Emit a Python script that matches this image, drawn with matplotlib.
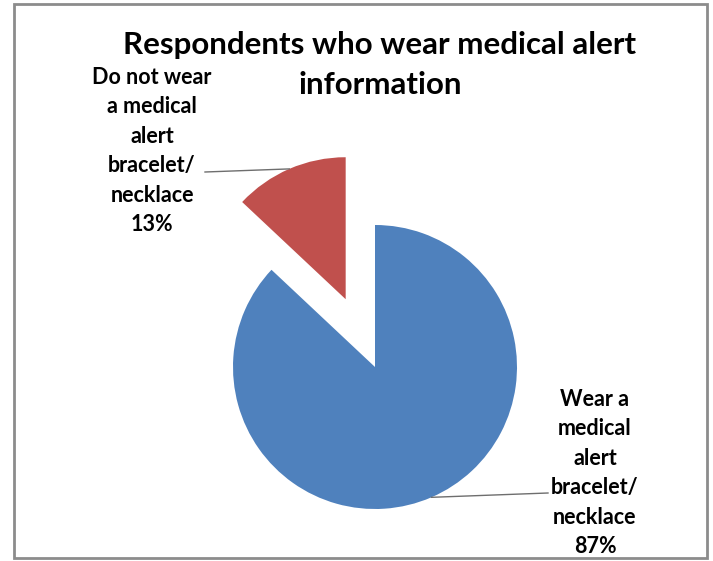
import numpy as np
import matplotlib.pyplot as plt
from matplotlib.patches import Rectangle

labels = ['Wear a\nmedical\nalert\nbracelet/\nnecklace', 'Do not wear\na medical\nalert\nbracelet/\nnecklace']
shares = [87, 13]
colors = ['#4F81BD', '#C0504D']
title_lines = ['Respondents who wear medical alert', 'information']

W, H = 713, 561
fig = plt.figure(figsize=(W / 100, H / 100), dpi=100)
ax = fig.add_axes([0, 0, 1, 1])

# chart frame
fig.patches.append(Rectangle((14 / W, 3 / H), 693 / W, 554 / H, transform=fig.transFigure,
                             fill=False, edgecolor='#8c8c8c', linewidth=2))

radius = 142
wedges, _ = ax.pie(shares, colors=colors, startangle=90, counterclock=False,
                   explode=[0, 0.52 * radius], center=(375, H - 367), radius=radius,
                   wedgeprops=dict(linewidth=0))
# pie() resets the limits, so set pixel-like limits afterwards
ax.set_xlim(0, W)
ax.set_ylim(0, H)
ax.set_aspect('equal')
ax.axis('off')

plt.rcParams['font.family'] = ['Lato', 'DejaVu Sans']
# title drawn line by line so the short second line keeps a tight box
for i, line in enumerate(title_lines):
    ax.text(380, H - 45 - 40 * i, line, ha='center', va='center', fontsize=22.5,
            fontweight='bold')

# label positions (text centre) and where the leader line meets the text
label_pos = [(595, H - 473), (152, H - 151)]
line_end = [(548, H - 493), (205, H - 172)]
for w, lab, s, pos, end in zip(wedges, labels, shares, label_pos, line_end):
    mid = np.deg2rad((w.theta1 + w.theta2) / 2)
    cx, cy = w.center
    ax_pt = (cx + w.r * np.cos(mid), cy + w.r * np.sin(mid))
    ax.plot([ax_pt[0], end[0]], [ax_pt[1], end[1]], color='#6e6e6e', linewidth=1)
    ax.text(pos[0], pos[1], f'{lab}\n{s}%', ha='center', va='center', fontsize=15.5,
            fontweight='bold', linespacing=1.5)

fig.savefig('out.png', dpi=100)
